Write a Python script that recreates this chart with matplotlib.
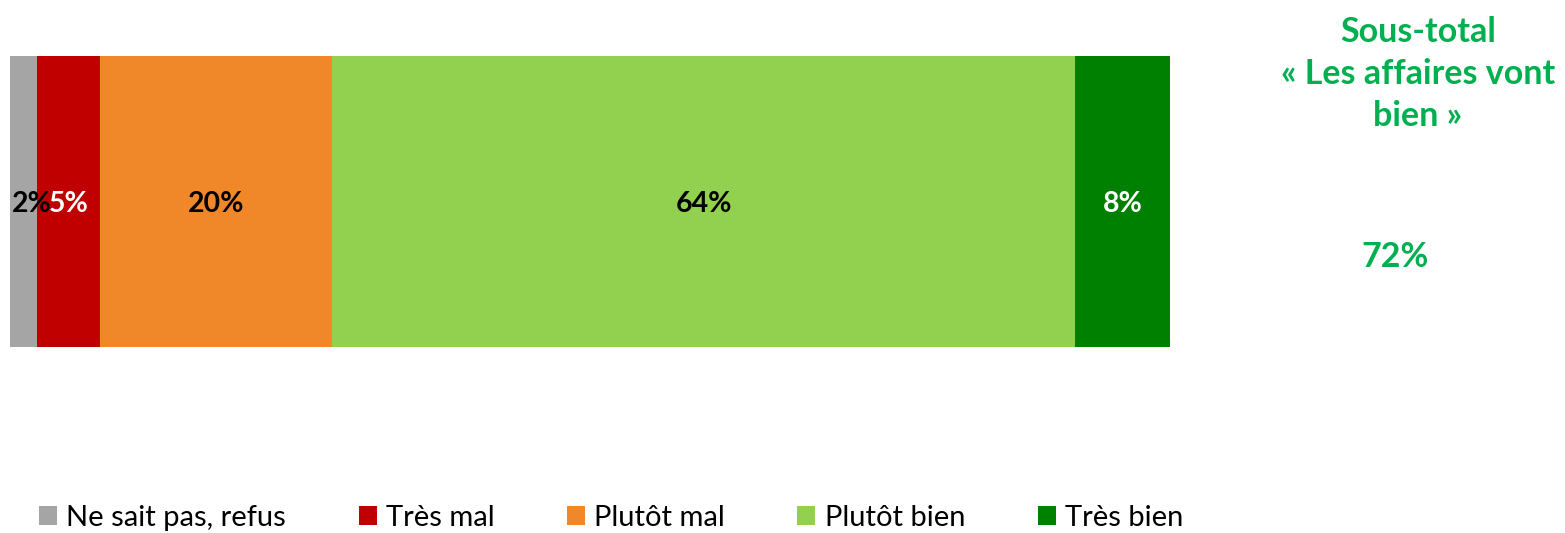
import matplotlib
matplotlib.use("Agg")
import matplotlib.pyplot as plt
from matplotlib.patches import Patch
import matplotlib.patheffects as pe

plt.rcParams['font.family'] = ['Lato', 'DejaVu Sans']

# data
categories = ["Ne sait pas, refus", "Très mal", "Plutôt mal", "Plutôt bien", "Très bien"]
values = [2.3, 5.5, 20.0, 64.0, 8.2]
shown = [2, 5, 20, 64, 8]
colors = ["#A5A5A5", "#C00000", "#F0882A", "#92D050", "#008000"]
label_colors = ["black", "white", "black", "black", "white"]
subtotal_title = "Sous-total\n« Les affaires vont\nbien »"
subtotal = 72

fig = plt.figure(figsize=(15.65, 5.33), dpi=100)
ax = fig.add_axes([10/1565, (533-347)/533, 1160/1565, 291/533])

shadow = [pe.SimplePatchShadow(offset=(2, -2), shadow_rgbFace='#d0d0d0', alpha=0.6), pe.Normal()]

left = 0
for i, v in enumerate(values):
    ax.barh(0, v, left=left, height=1.0, color=colors[i], edgecolor='none',
            path_effects=shadow)
    if i == 0:
        ax.annotate(f"{shown[i]}%", (left, 0), xytext=(1.5, -2), textcoords='offset points',
                    ha='left', va='center', fontsize=20.5, fontweight='bold',
                    color=label_colors[i])
    else:
        ax.annotate(f"{shown[i]}%", (left + v/2, 0), xytext=(0, -2), textcoords='offset points',
                    ha='center', va='center', fontsize=20.5, fontweight='bold',
                    color=label_colors[i])
    left += v

ax.set_xlim(0, sum(values))
ax.set_ylim(-0.5, 0.5)
ax.axis('off')

green = "#00B050"
fig.text(1418/1565, 1 - 74/533, subtotal_title, ha='center', va='center', fontsize=24.5,
         fontweight='bold', color=green, linespacing=1.4)
fig.text(1395/1565, 1 - 257/533, f"{subtotal}%", ha='center', va='center', fontsize=24.5,
         fontweight='bold', color=green)

handles = [Patch(facecolor=c, edgecolor='none') for c in colors]
fig.legend(handles, categories, loc='center left', bbox_to_anchor=(39/1565, 1 - 518/533),
           ncol=5, frameon=False, fontsize=21, handlelength=0.62, handleheight=0.62,
           handletextpad=0.32, columnspacing=2.48, borderpad=0, borderaxespad=0)

fig.savefig("out.png", dpi=100)
